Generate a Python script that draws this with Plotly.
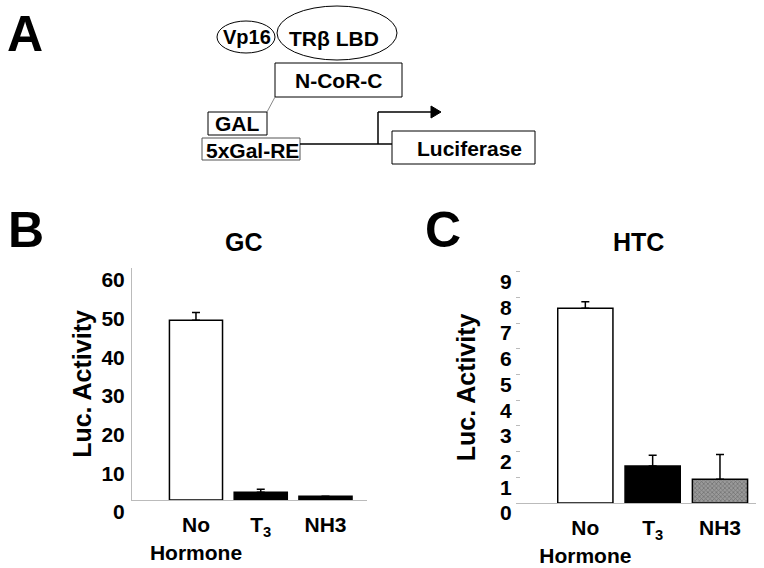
import plotly.graph_objects as go

# ---------------- data ----------------
categories = ["No<br>Hormone", "T<sub>3</sub>", "NH3"]
gc_values = [46.5, 2.0, 1.0]
gc_errors = [2.0, 0.8, 0.0]
htc_values = [7.58, 1.44, 0.92]
htc_errors = [0.25, 0.42, 0.97]
gc_ticks = [0, 10, 20, 30, 40, 50, 60]
htc_ticks = [0, 1, 2, 3, 4, 5, 6, 7, 8, 9]

W, H = 764, 568
FONT = "Liberation Sans, Arial, Helvetica, sans-serif"


def X(px):
    return px / W


def Y(py):
    return 1 - py / H


fig = go.Figure()

bar_line = dict(color="black", width=1.5)

fig.add_trace(go.Bar(
    x=categories, y=gc_values, xaxis="x", yaxis="y",
    marker=dict(color=["white", "black", "black"], line=bar_line),
    error_y=dict(type="data", symmetric=False, array=gc_errors,
                 arrayminus=[0, 0, 0], color="black", thickness=1.5, width=4),
    showlegend=False, hoverinfo="skip",
))

fig.add_trace(go.Bar(
    x=categories, y=htc_values, xaxis="x2", yaxis="y2",
    marker=dict(color=["white", "black", "#9a9a9a"], line=bar_line,
                pattern=dict(shape=["", "", "x"], fgcolor="#555555",
                             bgcolor="#b0b0b0", size=3, solidity=0.4)),
    error_y=dict(type="data", symmetric=False, array=htc_errors,
                 arrayminus=[0, 0, 0], color="black", thickness=1.5, width=4),
    showlegend=False, hoverinfo="skip",
))

tickfont = dict(family=FONT, size=21, color="black", weight="bold")
catfont = dict(family=FONT, size=21, color="black", weight="bold")
titlefont = dict(family=FONT, size=25, color="black", weight="bold")

fig.update_layout(
    width=W, height=H,
    margin=dict(l=0, r=0, t=0, b=0),
    paper_bgcolor="white", plot_bgcolor="rgba(0,0,0,0)",
    bargap=0.18,
    xaxis=dict(domain=[X(132), X(367)], range=[-0.988, 2.641],
               showline=True, linecolor="#bbbbbb", linewidth=1,
               showgrid=False, zeroline=False, ticks="", automargin=False,
               tickfont=catfont, ticklabelstandoff=6, anchor="y"),
    yaxis=dict(domain=[Y(500), Y(268)], range=[0, 60], tickvals=gc_ticks,
               showline=True, linecolor="#bbbbbb", linewidth=1,
               showgrid=False, zeroline=False, ticks="", automargin=False,
               tickfont=tickfont, ticklabelshift=12, ticklabelstandoff=2,
               title=dict(text="Luc. Activity", font=titlefont, standoff=2),
               anchor="x"),
    xaxis2=dict(domain=[X(517), X(756)], range=[-1.015, 2.535],
                showline=True, linecolor="#bbbbbb", linewidth=1,
                showgrid=False, zeroline=False, ticks="", automargin=False,
                tickfont=catfont, ticklabelstandoff=6, anchor="y2"),
    yaxis2=dict(domain=[Y(503), Y(271.7)], range=[0, 9], tickvals=htc_ticks,
                showline=False, showgrid=False, zeroline=False, automargin=False,
                ticks="outside", ticklen=4, tickcolor="#bbbbbb", tickwidth=1,
                tickfont=tickfont, ticklabelshift=10, ticklabelstandoff=0,
                title=dict(text="Luc. Activity", font=titlefont, standoff=16),
                anchor="free", position=X(520)),
)

# panel letters and titles
annots = [
    ("A", 25, 34, 50), ("B", 26, 230, 50), ("C", 443, 230, 50),
    ("GC", 244, 242, 25), ("HTC", 638, 242, 25),
    ("Vp16", 247, 37, 20), ("TRβ LBD", 334, 38, 21), ("N-CoR-C", 338, 80, 21),
    ("GAL", 237.5, 124, 21), ("5xGal-RE", 252, 150, 21),
    ("Luciferase", 469, 148, 21),
]
for t, x, y, s in annots:
    fig.add_annotation(text=t, x=X(x), y=Y(y), xref="paper", yref="paper",
                       showarrow=False, xanchor="center", yanchor="middle",
                       font=dict(family=FONT, size=s, color="black", weight="bold"))

# diagram shapes (panel A)
blk = dict(color="black", width=1)
shapes = [
    dict(type="circle", x0=X(217), x1=X(275), y0=Y(53), y1=Y(21), line=blk),
    dict(type="circle", x0=X(277), x1=X(397), y0=Y(60), y1=Y(6), line=blk),
    dict(type="rect", x0=X(275), x1=X(402), y0=Y(97), y1=Y(63), line=blk),
    dict(type="rect", x0=X(208), x1=X(267), y0=Y(135), y1=Y(112), line=blk),
    dict(type="rect", x0=X(202), x1=X(300), y0=Y(160), y1=Y(138),
         line=dict(color="#555555", width=1)),
    dict(type="rect", x0=X(392), x1=X(535), y0=Y(164), y1=Y(131), line=blk),
    dict(type="line", x0=X(267), x1=X(275), y0=Y(112), y1=Y(97),
         line=dict(color="#888888", width=1)),
    dict(type="line", x0=X(300), x1=X(392), y0=Y(144), y1=Y(144),
         line=dict(color="black", width=1.5)),
    dict(type="line", x0=X(378), x1=X(378), y0=Y(144), y1=Y(112),
         line=dict(color="black", width=1.5)),
    dict(type="line", x0=X(378), x1=X(433), y0=Y(112), y1=Y(112),
         line=dict(color="black", width=1.5)),
    dict(type="path",
         path=f"M {X(431)} {Y(106)} L {X(441)} {Y(112)} L {X(431)} {Y(118)} Z",
         fillcolor="black", line=dict(color="black", width=1)),
]
for s in shapes:
    s.setdefault("xref", "paper")
    s.setdefault("yref", "paper")
    fig.add_shape(**s)

fig.write_html("out.html",
               config={"displayModeBar": False},
               post_script="document.body.style.margin='0';"
                           "document.body.style.padding='0';")
